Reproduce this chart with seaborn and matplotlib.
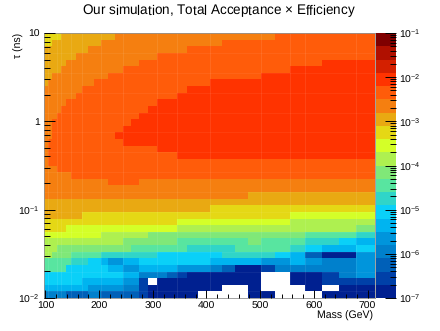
import numpy as np
import pandas as pd
import matplotlib
matplotlib.use("Agg")
import matplotlib.pyplot as plt
from matplotlib.colors import ListedColormap, LogNorm
from matplotlib.ticker import FixedLocator, NullFormatter, FuncFormatter
import seaborn as sns

sns.set_style("ticks")
plt.rcParams["font.family"] = ["Liberation Sans", "DejaVu Sans"]
plt.rcParams["mathtext.fontset"] = "custom"
plt.rcParams["mathtext.rm"] = "Liberation Sans"
plt.rcParams["mathtext.default"] = "regular"
plt.rcParams["text.hinting"] = "none"

title = "Our simulation, Total Acceptance $\\times$ Efficiency"
xlabel = "Mass (GeV)"
ylabel = "\u03c4 (ns)"

mass_edges = [97.4, 104.8, 112.3, 121.6, 129.1, 138.4, 147.8, 157.1, 168.3, 179.5,
              190.7, 203.7, 216.8, 229.9, 244.8, 259.7, 274.6, 291.4, 308.2, 326.9,
              345.5, 364.2, 384.7, 407.1, 429.5, 453.8, 478.0, 502.3, 528.4, 556.4,
              584.4, 616.1, 646.0, 677.7, 713.0]
mass_ticks = [100, 200, 300, 400, 500, 600, 700]
mass_minor = [m for m in range(100, 711, 20) if m % 100]
tau_ticks = [10.0, 1.0, 0.1, 0.01]
tau_labels = ["10", "1", "$10^{-1}$", "$10^{-2}$"]
z_ticks = [1e-1, 1e-2, 1e-3, 1e-4, 1e-5, 1e-6, 1e-7]

palette = ["#002090", "#0040a8", "#0060b8", "#0080cc", "#0095dc", "#00b4f0", "#0ad0f8",
           "#30d5c8", "#58e5a0", "#80e878", "#aef050", "#d4ff28", "#e5d815", "#e9a912",
           "#f57f10", "#ff5c0a", "#ff3300", "#d42000", "#b01000", "#7f0000"]

W = -1  # empty bin
# run-length rows, top (tau = 10 ns) to bottom: level, count, level, count ...
level_runs = [
    [12,4, 13,9, 14,15, 15,6],
    [12,2, 13,9, 14,13, 15,10],
    [13,9, 14,12, 15,13],
    [13,7, 14,11, 15,16],
    [13,5, 14,11, 15,15, 16,3],
    [13,4, 14,10, 15,15, 16,5],
    [13,2, 14,10, 15,15, 16,7],
    [13,1, 14,9, 15,13, 16,11],
    [14,8, 15,13, 16,13],
    [14,7, 15,13, 16,14],
    [14,5, 15,13, 16,16],
    [14,4, 15,13, 16,17],
    [14,3, 15,13, 16,18],
    [14,2, 15,13, 16,19],
    [14,2, 15,12, 16,20],
    [14,2, 15,11, 16,21],
    [14,1, 15,13, 16,20],
    [14,1, 15,17, 16,16],
    [14,1, 15,19, 16,14],
    [14,1, 15,33],
    [14,3, 15,31],
    [14,6, 15,28],
    [14,12, 15,4, 14,18],
    [14,34],
    [14,26, 13,8],
    [13,34],
    [13,23, 12,11],
    [13,8, 12,21, 11,5],
    [12,20, 11,9, 10,5],
    [12,5, 11,15, 10,13, 9,1],
    [11,11, 10,6, 9,13, 8,3, 7,1],
    [10,14, 9,6, 8,6, 9,1, 8,3, 7,2, 6,1, 5,1],
    [10,3, 9,12, 8,6, 7,4, 8,4, 7,1, 6,1, 5,2, 6,1],
    [10,2, 9,4, 8,5, 7,7, 6,6, 7,4, 6,1, 5,1, 2,1, 0,2, 4,1],
    [8,6, 7,3, 6,2, 5,1, 4,2, 5,2, 6,7, 5,4, 4,2, 5,1, 4,1, 3,2, 4,1],
    [8,5, 6,7, 5,2, 4,2, 5,4, 4,3, 3,1, 2,1, 0,2, 1,1, 3,5, 4,1],
    [6,14, 5,2, 3,3, 2,1, 1,1, 0,6, W,2, 0,2, 1,1, 3,1, 4,1],
    [6,8, 5,6, 4,2, 1,1, W,1, 0,9, W,2, 0,2, 1,3],
    [5,9, 4,5, 3,2, 1,1, 0,7, W,2, 0,1, W,3, 0,1, W,1, 0,2],
    [3,5, 2,4, 3,2, 2,5, 1,1, 0,5, W,4, 0,2, W,3, 0,3],
]

levels = np.array([np.repeat(r[0::2], r[1::2]) for r in level_runs], dtype=float)
mask = levels < 0
values = 10.0 ** (-7 + 0.3 * (levels + 0.5))
frame = pd.DataFrame(values)

edges = np.array(mass_edges)
index_edges = np.arange(len(edges), dtype=float)
mass_of_index = lambda i: np.interp(i, index_edges, edges)
index_of_mass = lambda m: np.interp(m, edges, index_edges)
n_rows = len(level_runs)
row_of_tau = lambda t: (1 - np.log10(t)) * n_rows / 3

fig = plt.figure(figsize=(4.4, 3.31), dpi=100)
W_PX, H_PX = 440, 331
ax = fig.add_axes([44 / W_PX, (H_PX - 298) / H_PX, 330.5 / W_PX, 265 / H_PX])
cax = fig.add_axes([376 / W_PX, (H_PX - 298) / H_PX, 20 / W_PX, 265 / H_PX])

sns.heatmap(frame, mask=mask, ax=ax, cbar_ax=cax, cmap=ListedColormap(palette),
            norm=LogNorm(1e-7, 1e-1), linewidths=0, xticklabels=False, yticklabels=False)
ax.set_facecolor("white")
ax.set_xscale("function", functions=(mass_of_index, index_of_mass))
ax.set_xlim(0, len(edges) - 1)
ax.set_ylim(n_rows, 0)
ax.set_axisbelow(False)

# faint seams between bins
for i in [1, 3, 4, 6, 8, 11, 14, 18, 20, 23, 27, 29, 30, 33]:
    ax.axvline(i, color="white", lw=0.5, alpha=0.12)
for r in range(0, n_rows, 3):
    ax.axhline(r, color="white", lw=0.5, alpha=0.08)

for s in ax.spines.values():
    s.set_visible(True)
    s.set_color("#909090")
    s.set_linewidth(0.6)

ax.xaxis.set_major_locator(FixedLocator(index_of_mass(np.array(mass_ticks, float))))
ax.xaxis.set_minor_locator(FixedLocator(index_of_mass(np.array(mass_minor, float))))
ax.xaxis.set_major_formatter(FuncFormatter(lambda v, p: str(mass_ticks[p]) if p is not None and p < len(mass_ticks) else ""))
ax.xaxis.set_minor_formatter(NullFormatter())
ax.tick_params(axis="x", which="major", direction="in", length=6.0, width=0.7, color="black",
               labelsize=7.5, pad=2.5, labelcolor="black", bottom=True, top=False)
ax.tick_params(axis="x", which="minor", direction="in", length=3.0, width=0.7, color="black",
               bottom=True, top=False)

ax.yaxis.set_major_locator(FixedLocator(row_of_tau(np.array(tau_ticks))))
ax.yaxis.set_major_formatter(FuncFormatter(lambda v, p: tau_labels[p] if p is not None and p < len(tau_labels) else ""))
tau_minor = [m * 10.0 ** d for d in (-2, -1, 0) for m in range(2, 10)]
ax.yaxis.set_minor_locator(FixedLocator(row_of_tau(np.array(tau_minor))))
ax.yaxis.set_minor_formatter(NullFormatter())
ax.tick_params(axis="y", which="major", direction="in", length=8.0, width=0.7, color="black",
               labelsize=7.5, pad=3, labelcolor="black", left=True, right=False)
ax.tick_params(axis="y", which="minor", direction="in", length=4.0, width=0.7, color="black",
               left=True, right=False)
for t in ax.get_yticklabels():
    t.set_rotation(0)

fig.text(218.5 / W_PX, 1 - 11 / H_PX, title, ha="center", va="center", fontsize=9.75, color="black")
fig.text(373 / W_PX, 1 - 316 / H_PX, xlabel, ha="right", va="center", fontsize=7.6, color="black")
fig.text(19 / W_PX, 1 - 33 / H_PX, ylabel, ha="center", va="top", rotation=90, fontsize=7.6, color="black")

cbar = ax.collections[0].colorbar
cbar.outline.set_visible(False)
cax.set_axisbelow(False)
cbar.solids.set_zorder(0.5)
cax.yaxis.set_ticks_position("right")
cax.yaxis.set_major_locator(FixedLocator(z_ticks))
cax.yaxis.set_major_formatter(FuncFormatter(lambda v, p: "$10^{%d}$" % round(np.log10(v))))
cax.yaxis.set_minor_locator(FixedLocator([m * 10.0 ** d for d in range(-7, -1) for m in range(2, 10)]))
cax.yaxis.set_minor_formatter(NullFormatter())
cax.tick_params(axis="y", which="major", direction="in", length=8.0, width=0.7, color="black",
                labelsize=7.5, pad=2.5, labelcolor="black")
cax.tick_params(axis="y", which="minor", direction="in", length=4.0, width=0.7, color="black")

fig.savefig("out.png", dpi=100, facecolor="white")
